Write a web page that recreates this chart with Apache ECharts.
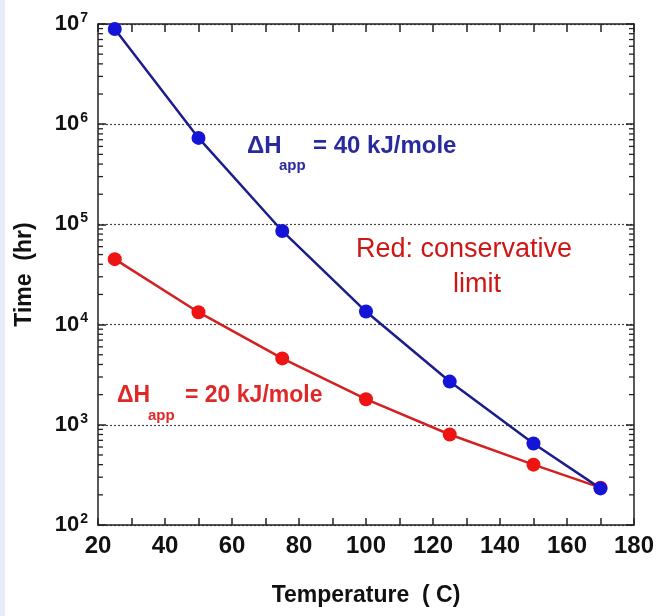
<!DOCTYPE html>
<html>
<head>
<meta charset="utf-8">
<script src="https://cdn.jsdelivr.net/npm/echarts@6/dist/echarts.min.js"></script>
<style>html,body{margin:0;padding:0;background:#fff;}#c{width:657px;height:616px;}</style>
</head>
<body>
<div id="c"></div>
<script>
const temperatures = [25, 50, 75, 100, 125, 150, 170];
const blueHours = [8.9e6, 7.3e5, 8.6e4, 1.35e4, 2.7e3, 650, 232];
const redHours = [4.5e4, 1.33e4, 4.6e3, 1.8e3, 800, 400, 236];
const xLabelValues = [20, 40, 60, 80, 100, 120, 140, 160, 180];
const minorTickValues = [
  200,300,400,500,600,700,800,900,
  2000,3000,4000,5000,6000,7000,8000,9000,
  20000,30000,40000,50000,60000,70000,80000,90000,
  200000,300000,400000,500000,600000,700000,800000,900000,
  2000000,3000000,4000000,5000000,6000000,7000000,8000000,9000000
];

const FONT = "'Liberation Sans', Arial, sans-serif";
const chart = echarts.init(document.getElementById('c'), null, {renderer: 'canvas'});

const axisLine = {show: true, lineStyle: {color: '#222', width: 1.5}};

chart.setOption({
  backgroundColor: '#fff',
  animation: false,
  grid: {left: 98, right: 22, top: 24, bottom: 91},
  xAxis: [{
    type: 'value', min: 20, max: 180, interval: 10, position: 'bottom',
    axisLine: axisLine,
    axisTick: {show: true, inside: true, length: 7, lineStyle: {color: '#222', width: 1.5}},
    minorTick: {show: false},
    splitLine: {show: false},
    axisLabel: {
      margin: 9, fontFamily: FONT, fontSize: 24, fontWeight: 'bold', color: '#111',
      formatter: v => xLabelValues.indexOf(v) >= 0 ? String(v) : ''
    },
    name: 'Temperature  ( C)', nameLocation: 'middle', nameGap: 59,
    nameTextStyle: {fontFamily: FONT, fontSize: 23, fontWeight: 'bold', color: '#111'}
  }, {
    type: 'value', min: 20, max: 180, interval: 10, position: 'top',
    axisLine: axisLine,
    axisTick: {show: true, inside: true, length: 8, lineStyle: {color: '#222', width: 1.5}},
    minorTick: {show: false},
    splitLine: {show: false}, axisLabel: {show: false}
  }],
  yAxis: [{
    type: 'log', logBase: 10, min: 100, max: 1e7, interval: 1, position: 'left',
    axisLine: axisLine,
    axisTick: {show: true, inside: true, length: 8, lineStyle: {color: '#222', width: 1.5}},
    minorTick: {show: false},
    minorSplitLine: {show: false},
    splitLine: {show: true, lineStyle: {color: '#444', width: 1.2, type: [2, 2]}},
    axisLabel: {
      margin: 10, color: '#111',
      formatter: v => '{b|10}{s|' + Math.round(Math.log10(v)) + '}',
      rich: {
        b: {fontFamily: FONT, fontSize: 22, fontWeight: 'bold', color: '#111'},
        s: {fontFamily: FONT, fontSize: 14, fontWeight: 'bold', color: '#111', padding: [0, 0, 12, 1]}
      }
    },
    name: 'Time  (hr)', nameLocation: 'middle', nameGap: 62, nameRotate: 90,
    nameTextStyle: {fontFamily: FONT, fontSize: 23, fontWeight: 'bold', color: '#111'}
  }, {
    type: 'log', logBase: 10, min: 100, max: 1e7, interval: 1, position: 'right',
    axisLine: axisLine,
    axisTick: {show: true, inside: true, length: 8, lineStyle: {color: '#222', width: 1.5}},
    minorTick: {show: false},
    minorSplitLine: {show: false},
    splitLine: {show: false}, axisLabel: {show: false}
  }],
  series: [{
    type: 'custom', xAxisIndex: 0, yAxisIndex: 0, silent: true, z: 1,
    data: minorTickValues.map(v => [v]),
    renderItem: function (params, api) {
      const pl = api.coord([20, api.value(0)]);
      const pr = api.coord([180, api.value(0)]);
      const st = {stroke: '#222', lineWidth: 1.3};
      return {type: 'group', children: [
        {type: 'line', shape: {x1: pl[0], y1: pl[1], x2: pl[0] + 5, y2: pl[1]}, style: st},
        {type: 'line', shape: {x1: pr[0], y1: pr[1], x2: pr[0] - 5, y2: pr[1]}, style: st}
      ]};
    },
    encode: {y: 0}
  }, {
    name: 'red', type: 'line', z: 3,
    data: temperatures.map((t, i) => [t, redHours[i]]),
    symbol: 'circle', symbolSize: 14,
    lineStyle: {color: '#d42020', width: 2.5},
    itemStyle: {color: '#ee1414'}
  }, {
    name: 'blue', type: 'line', z: 4,
    data: temperatures.map((t, i) => [t, blueHours[i]]),
    symbol: 'circle', symbolSize: 14,
    lineStyle: {color: '#1c1c8c', width: 2.5},
    itemStyle: {color: '#1414d6'}
  }],
  graphic: [
    {type: 'rect', left: 0, top: 0, shape: {width: 5, height: 616}, style: {fill: '#e6edf7'}, silent: true},
    {type: 'text', left: 247, top: 134, style: {text: 'ΔH', font: "bold 24px 'Liberation Sans', Arial", fill: '#2a2aa0'}},
    {type: 'text', left: 279, top: 158, style: {text: 'app', font: "bold 15px 'Liberation Sans', Arial", fill: '#2a2aa0'}},
    {type: 'text', left: 313, top: 134, style: {text: '= 40 kJ/mole', font: "bold 24px 'Liberation Sans', Arial", fill: '#2a2aa0'}},
    {type: 'text', left: 117, top: 384, style: {text: 'ΔH', font: "bold 23px 'Liberation Sans', Arial", fill: '#e02828'}},
    {type: 'text', left: 148, top: 408, style: {text: 'app', font: "bold 15px 'Liberation Sans', Arial", fill: '#e02828'}},
    {type: 'text', left: 185, top: 384, style: {text: '= 20 kJ/mole', font: "bold 23px 'Liberation Sans', Arial", fill: '#e02828'}},
    {type: 'text', left: 356, top: 236, style: {text: 'Red: conservative', font: "27px 'Liberation Sans', Arial", fill: '#d01515'}},
    {type: 'text', left: 453, top: 271, style: {text: 'limit', font: "27px 'Liberation Sans', Arial", fill: '#d01515'}}
  ]
});
</script>
</body>
</html>
